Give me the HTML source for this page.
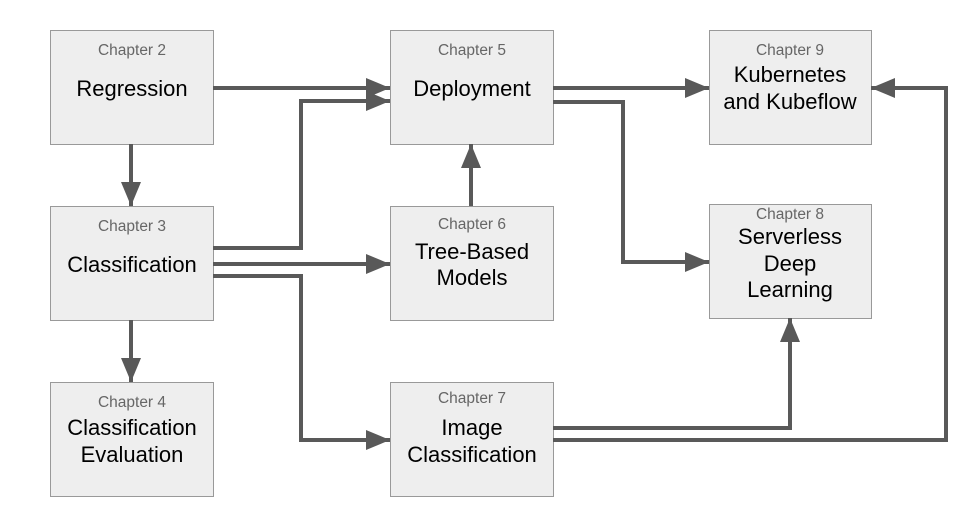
<!DOCTYPE html>
<html><head><style>
body{margin:0;background:#fff}
svg{display:block}
text{font-family:"Liberation Sans",Arial,sans-serif}
.c{font-size:15.5px;fill:#666}
.t{font-size:22px;fill:#000}
</style></head><body>
<svg width="972" height="508" viewBox="0 0 972 508">
<defs><marker id="a" markerWidth="6" markerHeight="5" refX="6" refY="2.5" orient="auto" markerUnits="strokeWidth"><path d="M0,0L6,2.5L0,5z" fill="#595959"/></marker></defs>
<g fill="#eeeeee" stroke="#999" stroke-width="1">
<rect x="50.5" y="30.5" width="163" height="114"/>
<rect x="50.5" y="206.5" width="163" height="114"/>
<rect x="50.5" y="382.5" width="163" height="114"/>
<rect x="390.5" y="30.5" width="163" height="114"/>
<rect x="390.5" y="206.5" width="163" height="114"/>
<rect x="390.5" y="382.5" width="163" height="114"/>
<rect x="709.5" y="30.5" width="162" height="114"/>
<rect x="709.5" y="204.5" width="162" height="114"/>
</g>
<g fill="none" stroke="#595959" stroke-width="4" marker-end="url(#a)">
<path d="M213,88H390"/>
<path d="M213,248H301V101H390"/>
<path d="M213,264H390"/>
<path d="M213,276H301V440H390"/>
<path d="M131,144V206"/>
<path d="M131,320V382"/>
<path d="M471,206V144"/>
<path d="M553,88H709"/>
<path d="M553,102H623V262H709"/>
<path d="M553,428H790V318"/>
<path d="M553,440H946V88H871"/>
</g>
<g text-anchor="middle">
<text class="c" x="132" y="55">Chapter 2</text><text class="t" x="132" y="96">Regression</text>
<text class="c" x="132" y="231">Chapter 3</text><text class="t" x="132" y="272">Classification</text>
<text class="c" x="132" y="407">Chapter 4</text><text class="t" x="132" y="435">Classification</text><text class="t" x="132" y="462">Evaluation</text>
<text class="c" x="472" y="55">Chapter 5</text><text class="t" x="472" y="96">Deployment</text>
<text class="c" x="472" y="229">Chapter 6</text><text class="t" x="472" y="259">Tree-Based</text><text class="t" x="472" y="285">Models</text>
<text class="c" x="472" y="403">Chapter 7</text><text class="t" x="472" y="435">Image</text><text class="t" x="472" y="462">Classification</text>
<text class="c" x="790" y="55">Chapter 9</text><text class="t" x="790" y="82">Kubernetes</text><text class="t" x="790" y="109">and Kubeflow</text>
<text class="c" x="790" y="219">Chapter 8</text><text class="t" x="790" y="244">Serverless</text><text class="t" x="790" y="271">Deep</text><text class="t" x="790" y="297">Learning</text>
</g>
</svg>
</body></html>
